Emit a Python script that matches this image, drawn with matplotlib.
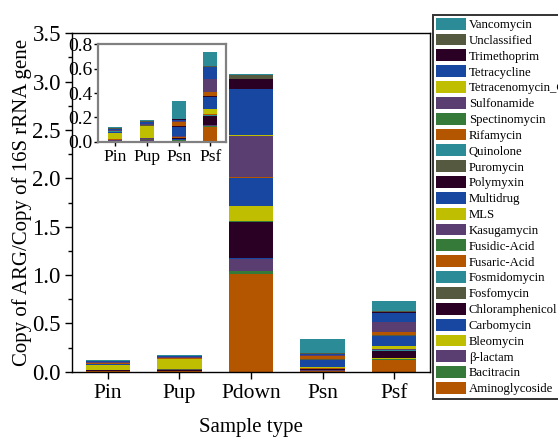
import matplotlib
matplotlib.use('Agg')
import matplotlib.pyplot as plt
import numpy as np
from matplotlib.ticker import MultipleLocator

plt.rcParams['font.family'] = ['Liberation Serif', 'DejaVu Serif']

samples = ['Pin', 'Pup', 'Pdown', 'Psn', 'Psf']
inset_samples = ['Pin', 'Pup', 'Psn', 'Psf']
classes = ['Aminoglycoside', 'Bacitracin', 'β-lactam', 'Bleomycin', 'Carbomycin',
           'Chloramphenicol', 'Fosfomycin', 'Fosmidomycin', 'Fusaric-Acid', 'Fusidic-Acid',
           'Kasugamycin', 'MLS', 'Multidrug', 'Polymyxin', 'Puromycin', 'Quinolone',
           'Rifamycin', 'Spectinomycin', 'Sulfonamide', 'Tetracenomycin_C', 'Tetracycline',
           'Trimethoprim', 'Unclassified', 'Vancomycin']
palette = ['#B45500', '#357A38', '#5A3E72', '#BFBE00', '#1747A0', '#2A0025', '#55593F', '#2B8B97']

pin = [0.008, 0.001, 0.001, 0.001, 0.001, 0.002, 0.003, 0.001, 0.001, 0.001, 0.002, 0.052,
       0.004, 0.004, 0.001, 0.001, 0.002, 0.001, 0.011, 0.001, 0.007, 0.002, 0.003, 0.010]
pup = [0.008, 0.001, 0.001, 0.001, 0.001, 0.002, 0.009, 0.001, 0.001, 0.001, 0.002, 0.102,
       0.002, 0.001, 0.001, 0.001, 0.004, 0.001, 0.007, 0.001, 0.015, 0.002, 0.002, 0.008]
pdown = [1.014, 0.024, 0.125, 0.004, 0.004, 0.374, 0.003, 0.002, 0.003, 0.002, 0.003, 0.156,
         0.287, 0.003, 0.002, 0.002, 0.004, 0.002, 0.426, 0.003, 0.481, 0.104, 0.045, 0.010]
psn = [0.006, 0.006, 0.003, 0.002, 0.002, 0.010, 0.002, 0.002, 0.002, 0.006, 0.002, 0.007,
       0.074, 0.002, 0.002, 0.003, 0.032, 0.002, 0.003, 0.002, 0.010, 0.003, 0.006, 0.145]
psf = [0.118, 0.010, 0.008, 0.003, 0.002, 0.068, 0.004, 0.010, 0.002, 0.002, 0.004, 0.035,
       0.105, 0.002, 0.002, 0.004, 0.028, 0.003, 0.105, 0.004, 0.092, 0.006, 0.008, 0.110]

data = np.array([pin, pup, pdown, psn, psf])
inset_data = np.array([pin, pup, psn, psf])

W, H = 558, 437
fig = plt.figure(figsize=(W / 100, H / 100), dpi=100)

ax = fig.add_axes([72 / W, 1 - 371.7 / H, (430 - 72) / W, (371.7 - 33.3) / H])
x = np.arange(len(samples))
bottom = np.zeros(len(samples))
handles = []
for k, cls in enumerate(classes):
    b = ax.bar(x, data[:, k], bottom=bottom, width=0.62, color=palette[k % 8],
               label=cls, linewidth=0)
    handles.append(b)
    bottom += data[:, k]

ax.set_xlim(-0.5, 4.5)
ax.set_ylim(0, 3.5)
ax.yaxis.set_major_locator(MultipleLocator(0.5))
ax.yaxis.set_minor_locator(MultipleLocator(0.25))
ax.yaxis.set_major_formatter(matplotlib.ticker.FormatStrFormatter('%.1f'))
ax.set_xticks(x)
ax.set_xticklabels(samples)
ax.tick_params(axis='both', which='major', direction='out', length=5, width=1)
ax.tick_params(axis='y', which='major', labelsize=16.5, pad=3)
ax.tick_params(axis='x', which='major', labelsize=15.5, pad=4)
ax.tick_params(axis='y', which='minor', direction='out', length=3, width=1)
for s in ax.spines.values():
    s.set_linewidth(1.0)
ax.set_xlabel('Sample type', fontsize=15, labelpad=11)
ax.set_ylabel('Copy of ARG/Copy of 16S rRNA gene', fontsize=15, labelpad=0)

# inset
axins = fig.add_axes([98 / W, 1 - 141.7 / H, (226 - 98) / W, (141.7 - 44.3) / H])
xi = np.arange(len(inset_samples))
bi = np.zeros(len(inset_samples))
for k, cls in enumerate(classes):
    axins.bar(xi, inset_data[:, k], bottom=bi, width=0.44, color=palette[k % 8], linewidth=0)
    bi += inset_data[:, k]
axins.set_xlim(-0.55, 3.5)
axins.set_ylim(0, 0.8)
axins.yaxis.set_major_locator(MultipleLocator(0.2))
axins.yaxis.set_major_formatter(matplotlib.ticker.FormatStrFormatter('%.1f'))
axins.set_xticks(xi)
axins.set_xticklabels(inset_samples)
axins.tick_params(axis='both', direction='out', length=3, width=1)
axins.tick_params(axis='y', labelsize=14, pad=1)
axins.tick_params(axis='x', labelsize=12.5, pad=2)
for s in axins.spines.values():
    s.set_linewidth(1.6)
    s.set_edgecolor('#808080')

leg = fig.legend(handles[::-1], classes[::-1], loc='upper left',
                 bbox_to_anchor=(433 / W, 1 - 14.5 / H), bbox_transform=fig.transFigure,
                 fontsize=9.2, handlelength=2.3, handleheight=1.05, labelspacing=0.2,
                 handletextpad=0.25, borderpad=0.25, borderaxespad=0, frameon=True,
                 fancybox=False, edgecolor='#333333', framealpha=1)
leg.get_frame().set_linewidth(1.4)

fig.savefig('out.png', dpi=100)
